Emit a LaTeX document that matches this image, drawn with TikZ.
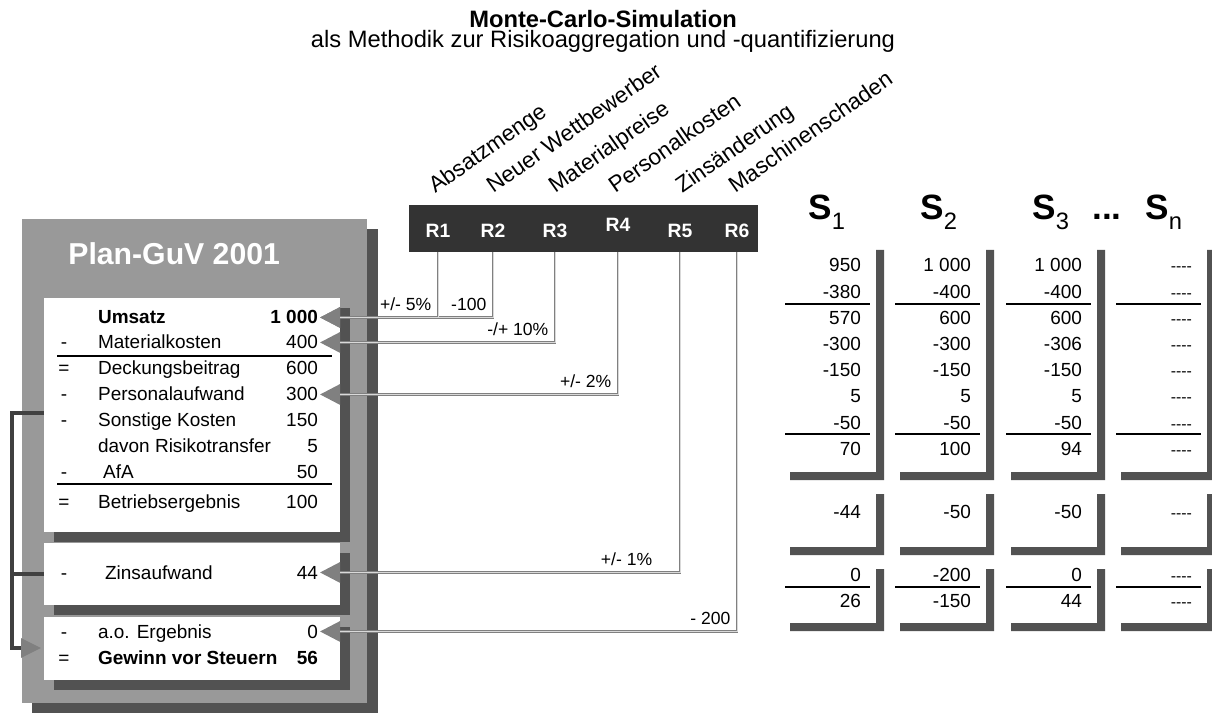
\documentclass[tikz,border=0pt]{standalone}
\usepackage{fontspec}
\setmainfont{Liberation Sans}
\usetikzlibrary{calc, arrows.meta, positioning}
\definecolor{boxgray}{gray}{0.6}
\definecolor{shadowgray}{gray}{0.32}
\definecolor{bargray}{gray}{0.2}
\definecolor{linkgray}{gray}{0.5}
\definecolor{bracketgray}{gray}{0.25}
\newcommand\tabfont{\fontsize{10.8}{12}\selectfont}
\newcommand\lblfont{\fontsize{10}{12}\selectfont}
\newcommand\Sidx[1]{\raisebox{-5.5pt}{\fontsize{13.5}{14}\selectfont\mdseries #1}}

\begin{document}
\begin{tikzpicture}[x=0.02cm, y=-0.02cm, >=Latex,
  sign/.style={anchor=base, font=\tabfont, inner sep=1pt},
  item/.style={anchor=base west, font=\tabfont, inner sep=1pt},
  val/.style={anchor=base east, font=\tabfont, inner sep=1pt},
  dashval/.style={anchor=base east, font=\fontsize{9}{10}\selectfont, inner sep=1pt},
  rule/.style={draw=black, line width=0.7pt},
  rtext/.style={text=white, font=\bfseries\fontsize{11}{13}\selectfont},
  risklbl/.style={rotate=35, anchor=base west, inner sep=0pt, font=\fontsize{12.8}{14}\selectfont},
  shead/.style={anchor=base west, inner sep=0pt, font=\bfseries\fontsize{20}{22}\selectfont},
  link/.style={draw=linkgray, line width=1.6pt, -{Triangle[length=0.4cm, width=0.4cm, color=linkgray]}},
  core/.style={draw=white!85!black, line width=0.5pt},
  rlabel/.style={font=\lblfont, anchor=south east, inner sep=1pt, xshift=-2pt, yshift=2pt},
  bracket/.style={draw=bracketgray, line width=1.8pt}]
\useasboundingbox (0,0) rectangle (1212,715);

% Titel
\node[anchor=base, font=\bfseries\fontsize{13.5}{16}\selectfont] (title) at (603,28) {Monte-Carlo-Simulation};
\node[anchor=base, font=\fontsize{13.5}{16}\selectfont] (subtitle) at (603,48) {als Methodik zur Risikoaggregation und -quantifizierung};

% Plan-GuV Kasten
\fill[shadowgray] (32,229) rectangle (378,713);
\fill[boxgray] (22,219) rectangle (367,703);
\fill[shadowgray] (54,308) rectangle (350,542);
\fill[white] (44,298) rectangle (340,532);
\fill[shadowgray] (54,553) rectangle (350,615);
\fill[white] (44,543) rectangle (340,605);
\fill[shadowgray] (54,627) rectangle (350,690);
\fill[white] (44,617) rectangle (340,680);
\node[anchor=base west, text=white, inner sep=0pt, font=\bfseries\fontsize{17.2}{19}\selectfont] (plan) at (68,265) {Plan-GuV 2001};

\node[item, font=\bfseries\tabfont] (umsatz) at (96,324) {Umsatz};
\node[val, font=\bfseries\tabfont] (uval) at (320,324) {1 000};
\node[sign] (sg2) at (64,349) {-};
\node[item] (mat) at (96,349) {Materialkosten};
\node[val] (matval) at (320,349) {400};
\draw[rule] (57,356) -- (332,356);
\node[sign] (sg3) at (64,375) {=};
\node[item] (db) at (96,375) {Deckungsbeitrag};
\node[val] (dbval) at (320,375) {600};
\node[sign] (sg4) at (64,401) {-};
\node[item] (pers) at (96,401) {Personalaufwand};
\node[val] (persval) at (320,401) {300};
\node[sign] (sg5) at (64,427) {-};
\node[item] (sonst) at (96,427) {Sonstige Kosten};
\node[val] (sonstval) at (320,427) {150};
\node[item] (davon) at (96,453) {davon Risikotransfer};
\node[val] (davonval) at (320,453) {5};
\node[sign] (sg7) at (64,479) {-};
\node[item] (afa) at (101,479) {AfA};
\node[val] (afaval) at (320,479) {50};
\draw[rule] (57,484) -- (332,484);
\node[sign] (sg8) at (64,508) {=};
\node[item] (be) at (96,508) {Betriebsergebnis};
\node[val] (beval) at (320,508) {100};

\node[sign] (sg9) at (64,579) {-};
\node[item] (zins) at (103,579) {Zinsaufwand};
\node[val] (zinsval) at (320,579) {44};

\node[sign] (sg10) at (64,638) {-};
\node[item] (ao) at (96,638) {a.o. Ergebnis};
\node[val] (aoval) at (320,638) {0};
\node[sign] (sg11) at (64,664) {=};
\node[item, font=\bfseries\tabfont] (gewinn) at (96,664) {Gewinn vor Steuern};
\node[val, font=\bfseries\tabfont] (gewinnval) at (320,664) {56};

% Klammer links
\coordinate (brtop) at (44,413);
\coordinate (brmid) at (44,574);
\coordinate (brend) at (41,648);
\draw[bracket, -{Triangle[length=0.4cm, width=0.38cm, color=linkgray]}] (brtop) -- ++(-32,0) |- (brend);
\draw[bracket] (brmid) -- ++(-32,0);

% Risiken
\node[fill=bargray, minimum width=6.98cm, minimum height=0.94cm, inner sep=0pt] (bar) at (583.5,228.5) {};
\foreach \x/\y [count=\i] in {438/231, 493/231, 555/231, 618/225, 680/231, 737/231}
  \node[rtext] (R\i) at (\x,\y) {R\i};
\foreach \name/\dx [count=\i] in {Absatzmenge/-3, Neuer Wettbewerber/0, Materialpreise/0, Personalkosten/-3, Zinsänderung/2, Maschinenschaden/-2}
  \node[risklbl] (lbl\i) at ($(R\i |- 0,194)+(\dx,0)$) {\name};

\draw[link] (R1 |- bar.south) |- node[rlabel] {+/- 5\%} (uval);
\draw[link] (R2 |- bar.south) |- node[rlabel] {-100} (uval);
\draw[link] (R3 |- bar.south) |- node[rlabel] {-/+ 10\%} (matval);
\draw[link] (R4 |- bar.south) |- node[rlabel] {+/- 2\%} (persval);
\draw[link] (R5 |- bar.south) |- node[rlabel, xshift=-12pt] {+/- 1\%} (zinsval);
\draw[link] (R6 |- bar.south) |- node[rlabel] {- 200} (aoval);
\foreach \r/\t in {R1/uval, R2/uval, R3/matval, R4/persval, R5/zinsval, R6/aoval}
  \draw[core] (\r |- bar.south) |- ($(\t.east)+(20,0)$);

% Simulationslaeufe
\node[shead] (S1) at (808,220) {S\Sidx{1}};
\node[shead] (S2) at (920,220) {S\Sidx{2}};
\node[shead] (S3) at (1032,220) {S\Sidx{3}};
\node[shead] (dots) at (1092,220) {...};
\node[shead] (Sn) at (1145,220) {S\Sidx{n}};

\foreach \r in {863,973,1084,1194} {
  \foreach \t/\b in {250/480, 494/555, 569/631}
    \fill[shadowgray] (\r+13,\t) -- (\r+21,\t) -- (\r+21,\b) -- (\r-73,\b) -- (\r-73,\b-8) -- (\r+13,\b-8) -- cycle;
  \draw[rule] (\r-78,304) -- (\r+7,304);
  \draw[rule] (\r-78,434) -- (\r+7,434);
  \draw[rule] (\r-78,587) -- (\r+7,587);
}

\foreach \v [count=\i] in {950,-380,570,-300,-150,5,-50,70}
  \node[val] (sa\i) at (863,{272+(\i-1)*26.2}) {\v};
\node[val] (sa9) at (863,518) {-44};
\node[val] (sa10) at (863,581) {0};
\node[val] (sa11) at (863,607) {26};

\foreach \v [count=\i] in {1 000,-400,600,-300,-150,5,-50,100}
  \node[val] (sb\i) at (973,{272+(\i-1)*26.2}) {\v};
\node[val] (sb9) at (973,518) {-50};
\node[val] (sb10) at (973,581) {-200};
\node[val] (sb11) at (973,607) {-150};

\foreach \v [count=\i] in {1 000,-400,600,-306,-150,5,-50,94}
  \node[val] (sc\i) at (1084,{272+(\i-1)*26.2}) {\v};
\node[val] (sc9) at (1084,518) {-50};
\node[val] (sc10) at (1084,581) {0};
\node[val] (sc11) at (1084,607) {44};

\foreach \i in {1,...,8}
  \node[dashval] (sd\i) at (1194,{272+(\i-1)*26.2}) {-{}-{}-{}-};
\node[dashval] (sd9) at (1194,518) {-{}-{}-{}-};
\node[dashval] (sd10) at (1194,581) {-{}-{}-{}-};
\node[dashval] (sd11) at (1194,607) {-{}-{}-{}-};
\end{tikzpicture}
\end{document}
